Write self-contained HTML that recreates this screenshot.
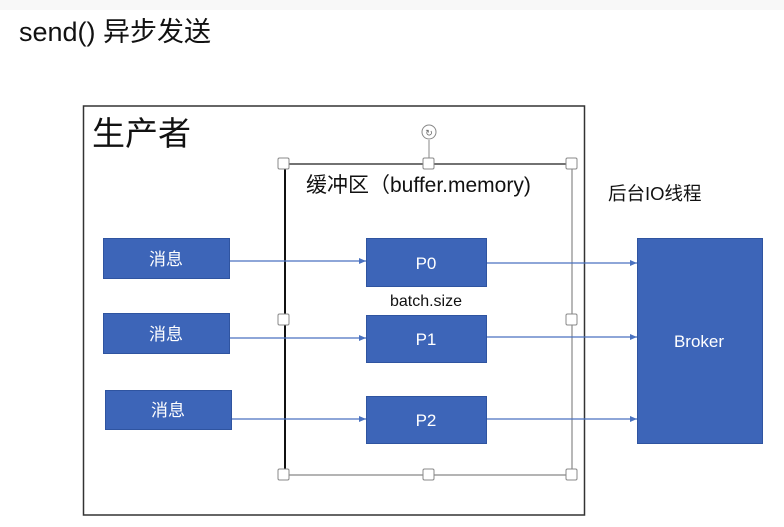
<!DOCTYPE html>
<html><head><meta charset="utf-8"><style>
html,body{margin:0;padding:0;background:#fff;width:784px;height:527px;overflow:hidden}
svg{display:block}
text{font-family:"Liberation Sans","Noto Sans CJK SC",sans-serif}
</style></head><body>
<svg width="784" height="527" viewBox="0 0 784 527" xmlns="http://www.w3.org/2000/svg">
<defs><marker id="a" markerWidth="8" markerHeight="8" refX="7" refY="4" orient="auto" markerUnits="userSpaceOnUse"><path d="M0,1 L7,4 L0,7 z" fill="#4a72c0"/></marker></defs>
<rect x="0" y="0" width="784" height="10" fill="#f8f8f8"/>
<text x="19" y="41" font-size="27" fill="#111">send() 异步发送</text>
<rect x="83.5" y="106" width="501" height="409" fill="none" stroke="#333" stroke-width="1.5"/>
<text x="92" y="145" font-size="33" fill="#111">生产者</text>
<line x1="285" y1="164" x2="285" y2="475" stroke="#111" stroke-width="2"/>
<line x1="284" y1="164" x2="573" y2="164" stroke="#444" stroke-width="1.5"/>
<line x1="572" y1="164" x2="572" y2="475" stroke="#888" stroke-width="1.2"/>
<line x1="284" y1="475" x2="573" y2="475" stroke="#888" stroke-width="1.2"/>
<line x1="429" y1="140" x2="429" y2="164" stroke="#888"/>
<circle cx="429" cy="132" r="7" fill="#fff" stroke="#888"/>
<text x="429" y="136" font-size="9" text-anchor="middle" fill="#666">↻</text>
<g fill="#fff" stroke="#888" stroke-width="1">
<rect x="278" y="158" width="11" height="11" rx="1.5"/><rect x="423" y="158" width="11" height="11" rx="1.5"/><rect x="566" y="158" width="11" height="11" rx="1.5"/>
<rect x="278" y="314" width="11" height="11" rx="1.5"/><rect x="566" y="314" width="11" height="11" rx="1.5"/>
<rect x="278" y="469" width="11" height="11" rx="1.5"/><rect x="423" y="469" width="11" height="11" rx="1.5"/><rect x="566" y="469" width="11" height="11" rx="1.5"/>
</g>
<text x="306" y="192" font-size="21" fill="#111">缓冲区（buffer.memory)</text>
<text x="608" y="200" font-size="18.5" fill="#111">后台IO线程</text>
<g stroke="#4a72c0" stroke-width="1.3">
<line x1="229" y1="261" x2="366" y2="261" marker-end="url(#a)"/>
<line x1="229" y1="338" x2="366" y2="338" marker-end="url(#a)"/>
<line x1="231" y1="419" x2="366" y2="419" marker-end="url(#a)"/>
<line x1="486" y1="263" x2="637" y2="263" marker-end="url(#a)"/>
<line x1="486" y1="337" x2="637" y2="337" marker-end="url(#a)"/>
<line x1="486" y1="419" x2="637" y2="419" marker-end="url(#a)"/>
</g>
<g fill="#3d65b8" stroke="#2f54a0" stroke-width="1">
<rect x="103.5" y="238.5" width="126" height="40"/>
<rect x="103.5" y="313.5" width="126" height="40"/>
<rect x="105.5" y="390.5" width="126" height="39"/>
<rect x="366.5" y="238.5" width="120" height="48"/>
<rect x="366.5" y="315.5" width="120" height="47"/>
<rect x="366.5" y="396.5" width="120" height="47"/>
<rect x="637.5" y="238.5" width="125" height="205"/>
</g>
<g fill="#fff" font-size="17" text-anchor="middle">
<text x="166" y="265">消息</text>
<text x="166" y="340">消息</text>
<text x="168" y="416">消息</text>
<text x="426" y="269">P0</text>
<text x="426" y="345">P1</text>
<text x="426" y="426">P2</text>
<text x="699" y="347">Broker</text>
</g>
<text x="426" y="306" font-size="16" text-anchor="middle" fill="#111">batch.size</text>
</svg>
</body></html>
